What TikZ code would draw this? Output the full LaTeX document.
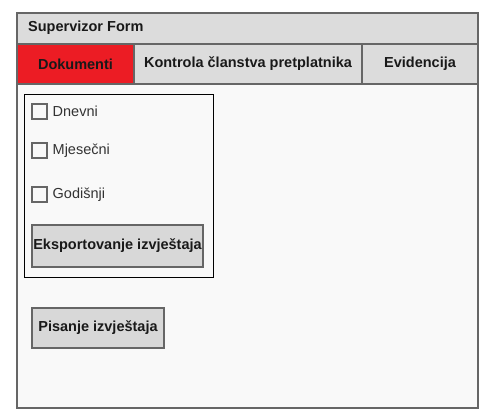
\documentclass[tikz,border=0pt]{standalone}
\usepackage{fontspec}
\setmainfont{Liberation Sans}
\usetikzlibrary{positioning}

\definecolor{frameGray}{HTML}{666666}
\definecolor{barGray}{HTML}{DCDCDC}
\definecolor{btnGray}{HTML}{D8D8D8}
\definecolor{bodyWhite}{HTML}{F9F9F9}
\definecolor{tabRed}{HTML}{EC1C24}
\definecolor{txtGray}{HTML}{333333}

\tikzstyle{bar}=[rectangle, draw=frameGray, line width=2pt, fill=barGray, anchor=north west, inner sep=0pt, font=\fontsize{14.5}{17}\selectfont\bfseries, text=black!90]
\tikzstyle{tab}=[bar, align=center]
\tikzstyle{btn}=[rectangle, draw=frameGray, line width=2pt, fill=btnGray, anchor=north west, inner sep=0pt, font=\fontsize{14.5}{17}\selectfont\bfseries, text=black!90]
\tikzstyle{chk}=[rectangle, draw=frameGray, line width=1.5pt, fill=bodyWhite, anchor=north west, minimum size=15pt, inner sep=0pt]

\begin{document}
\begin{tikzpicture}[x=1pt, y=-1pt, every node/.append style = {font=\fontsize{14.5}{17}\selectfont}, lbl/.style = {inner sep=0pt, text=txtGray, right=5pt of #1}]
    \useasboundingbox (0,0) rectangle (494,416);

    % form body and title bar
    \node (form) [rectangle, draw=frameGray, line width=2pt, fill=bodyWhite, anchor=north west, minimum width=461pt, minimum height=395pt, inner sep=0pt] at (16,12) {};
    \node (title) [bar, minimum width=461pt, minimum height=31pt] at (16,12) {};
    \node (titletext) [anchor=west, inner sep=0pt, font=\fontsize{14.5}{17}\selectfont\bfseries, text=black!90] at (28,28) {Supervizor Form};

    % tabs
    \node (dok) [tab, fill=tabRed, minimum width=117pt, minimum height=40pt] at (16,43) {Dokumenti};
    \node (kon) [tab, minimum width=228pt, minimum height=40pt] at (133,43) {Kontrola članstva pretplatnika};
    \node (evi) [tab, minimum width=116pt, minimum height=40pt] at (361,43) {Evidencija};

    % report group
    \node (group) [rectangle, draw=black, line width=1pt, anchor=north west, minimum width=189pt, minimum height=183pt, inner sep=0pt] at (24,94) {};
    \node (cday) [chk] at (31,103) {};
    \node (lday) [lbl=cday] {Dnevni};
    \node (cmonth) [chk] at (31,142) {};
    \node (lmonth) [lbl=cmonth] {Mjesečni};
    \node (cyear) [chk] at (31,186) {};
    \node (lyear) [lbl=cyear] {Godišnji};
    \node (export) [btn, minimum width=171pt, minimum height=42pt] at (31,224) {Eksportovanje izvještaja};

    \node (write) [btn, minimum width=132pt, minimum height=40pt] at (31,307) {Pisanje izvještaja};
  \end{tikzpicture}
\end{document}
